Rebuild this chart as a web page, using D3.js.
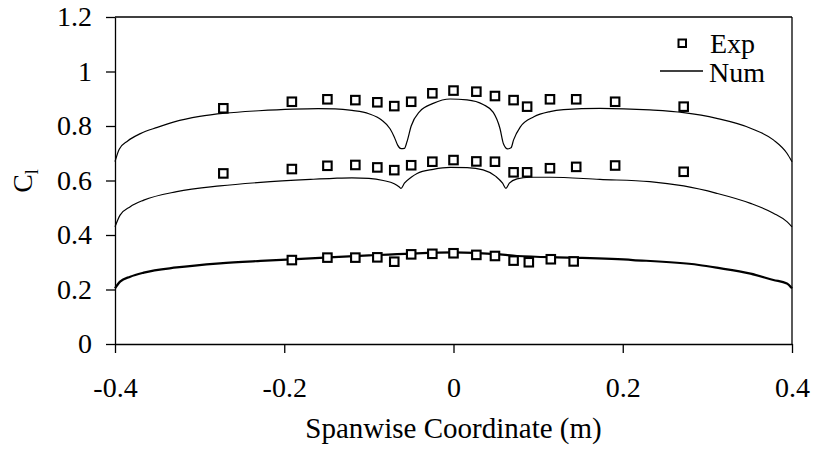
<!DOCTYPE html>
<html>
<head>
<meta charset="utf-8">
<script src="https://cdn.jsdelivr.net/npm/d3@7"></script>
<style>
  body { margin: 0; background: #fff; }
  svg text { font-family: "Liberation Serif", "Times New Roman", serif; fill: #000; }
</style>
</head>
<body>
<svg id="chart" width="814" height="449"></svg>
<script>
// experiment: spanwise stations and measured Cl for three cases
var expX = [-0.272, -0.191, -0.149, -0.116, -0.090, -0.070, -0.050, -0.025, 0, 0.027, 0.049, 0.071, 0.087, 0.114, 0.145, 0.191, 0.272];
var expHigh = [0.865, 0.889, 0.898, 0.895, 0.887, 0.873, 0.889, 0.920, 0.930, 0.926, 0.910, 0.895, 0.871, 0.898, 0.898, 0.889, 0.871];
var expMid = [0.626, 0.642, 0.654, 0.657, 0.648, 0.638, 0.656, 0.669, 0.675, 0.670, 0.669, 0.630, 0.630, 0.645, 0.650, 0.655, 0.632];
var expLowX = [-0.191, -0.149, -0.116, -0.090, -0.070, -0.050, -0.025, 0, 0.027, 0.049, 0.071, 0.089, 0.115, 0.142];
var expLow = [0.308, 0.317, 0.317, 0.318, 0.302, 0.329, 0.331, 0.333, 0.327, 0.323, 0.306, 0.300, 0.311, 0.303];

// numerical curves
var numHighX = [-0.4, -0.395, -0.385, -0.37, -0.35, -0.33, -0.3, -0.27, -0.23, -0.19, -0.16, -0.14, -0.12, -0.1, -0.085, -0.075, -0.07, -0.066, -0.062, -0.058, -0.055, -0.05, -0.04, -0.024, -0.004, 0.016, 0.035, 0.047, 0.055, 0.059, 0.064, 0.068, 0.071, 0.079, 0.095, 0.114, 0.13, 0.173, 0.232, 0.272, 0.311, 0.351, 0.378, 0.394, 0.4];
var numHigh = [0.669, 0.715, 0.745, 0.772, 0.795, 0.815, 0.835, 0.847, 0.856, 0.862, 0.864, 0.863, 0.857, 0.845, 0.822, 0.790, 0.760, 0.730, 0.717, 0.718, 0.742, 0.800, 0.853, 0.883, 0.899, 0.896, 0.879, 0.850, 0.790, 0.735, 0.716, 0.720, 0.749, 0.797, 0.834, 0.853, 0.860, 0.865, 0.859, 0.849, 0.828, 0.792, 0.749, 0.700, 0.669];
var numMidX = [-0.4, -0.394, -0.382, -0.366, -0.327, -0.276, -0.228, -0.169, -0.142, -0.12, -0.1, -0.083, -0.07, -0.064, -0.062, -0.058, -0.05, -0.043, -0.024, -0.004, 0.016, 0.035, 0.05, 0.058, 0.062, 0.066, 0.075, 0.09, 0.114, 0.173, 0.232, 0.272, 0.311, 0.351, 0.378, 0.394, 0.4];
var numMid = [0.430, 0.473, 0.504, 0.528, 0.559, 0.580, 0.593, 0.604, 0.608, 0.610, 0.608, 0.600, 0.588, 0.576, 0.571, 0.590, 0.612, 0.626, 0.641, 0.648, 0.647, 0.639, 0.615, 0.590, 0.571, 0.590, 0.606, 0.612, 0.612, 0.604, 0.596, 0.580, 0.553, 0.516, 0.480, 0.449, 0.430];
var numLowX = [-0.4, -0.394, -0.382, -0.366, -0.327, -0.276, -0.228, -0.169, -0.1, -0.05, 0, 0.05, 0.075, 0.14, 0.212, 0.29, 0.311, 0.351, 0.378, 0.394, 0.4];
var numLow = [0.204, 0.229, 0.247, 0.262, 0.281, 0.296, 0.305, 0.314, 0.325, 0.332, 0.336, 0.330, 0.323, 0.317, 0.308, 0.290, 0.280, 0.258, 0.235, 0.222, 0.204];

var xTicks = [-0.4, -0.2, 0, 0.2, 0.4];
var xTickLabels = ["-0.4", "-0.2", "0", "0.2", "0.4"];
var yTicks = [0, 0.2, 0.4, 0.6, 0.8, 1, 1.2];
var yTickLabels = ["0", "0.2", "0.4", "0.6", "0.8", "1", "1.2"];

var margin = {top: 17, right: 22, bottom: 105, left: 115};
var width = 814 - margin.left - margin.right;
var height = 449 - margin.top - margin.bottom;

var svg = d3.select("#chart");
var g = svg.append("g").attr("transform", "translate(" + margin.left + "," + margin.top + ")");

var x = d3.scaleLinear().domain([-0.4, 0.4]).range([0, width]);
var y = d3.scaleLinear().domain([0, 1.2]).range([height, 0]);

function zip(xs, ys) {
  return xs.map(function(v, i) { return [v, ys[i]]; });
}

// frame top and right
g.append("line").attr("x1", 0).attr("x2", width).attr("y1", 0).attr("y2", 0)
  .attr("stroke", "#000").attr("stroke-width", 1.3);
g.append("line").attr("x1", width).attr("x2", width).attr("y1", 0).attr("y2", height)
  .attr("stroke", "#000").attr("stroke-width", 1.3);

var xAxis = g.append("g")
  .attr("transform", "translate(0," + height + ")")
  .call(d3.axisBottom(x).tickValues(xTicks)
    .tickFormat(function(d, i) { return xTickLabels[i]; })
    .tickSize(9).tickPadding(24).tickSizeOuter(0));
var yAxis = g.append("g")
  .call(d3.axisLeft(y).tickValues(yTicks)
    .tickFormat(function(d, i) { return yTickLabels[i]; })
    .tickSize(9).tickPadding(14).tickSizeOuter(0));

[xAxis, yAxis].forEach(function(a) {
  a.attr("font-family", null).attr("font-size", null);
  a.select(".domain").attr("stroke", "#000").attr("stroke-width", 1.3);
  a.selectAll(".tick line").attr("stroke", "#000").attr("stroke-width", 1.3);
  a.selectAll(".tick text").style("font-size", "28px");
});

// numerical lines
var line = d3.line()
  .x(function(d) { return x(d[0]); })
  .y(function(d) { return y(d[1]); })
  .curve(d3.curveMonotoneX);

var curves = [zip(numHighX, numHigh), zip(numMidX, numMid), zip(numLowX, numLow)];
var widths = [1.2, 1.2, 2.2];
curves.forEach(function(c, i) {
  g.append("path").datum(c)
    .attr("d", line)
    .attr("fill", "none")
    .attr("stroke", "#000")
    .attr("stroke-width", widths[i]);
});

// experimental squares
var pts = zip(expX, expHigh).concat(zip(expX, expMid)).concat(zip(expLowX, expLow));
var s = 8.5;
g.selectAll("rect.exp").data(pts).enter().append("rect")
  .attr("class", "exp")
  .attr("x", function(d) { return x(d[0]) - s / 2; })
  .attr("y", function(d) { return y(d[1]) - s / 2; })
  .attr("width", s).attr("height", s)
  .attr("fill", "#fff")
  .attr("stroke", "#000")
  .attr("stroke-width", 2.1);

// legend
var lg = svg.append("g");
lg.append("rect").attr("x", 678.5).attr("y", 39.5).attr("width", 7.5).attr("height", 7.5)
  .attr("fill", "#fff").attr("stroke", "#000").attr("stroke-width", 2);
lg.append("text").attr("x", 710).attr("y", 52.5).style("font-size", "28px").text("Exp");
lg.append("line").attr("x1", 660).attr("x2", 703).attr("y1", 71).attr("y2", 71)
  .attr("stroke", "#000").attr("stroke-width", 1.5);
lg.append("text").attr("x", 709).attr("y", 81.5).style("font-size", "28px").text("Num");

// axis titles
svg.append("text")
  .attr("x", margin.left + width / 2).attr("y", 438)
  .attr("text-anchor", "middle")
  .style("font-size", "29px")
  .text("Spanwise Coordinate (m)");

var yt = svg.append("text")
  .attr("transform", "translate(32,181) rotate(-90)")
  .attr("text-anchor", "middle")
  .style("font-size", "28px");
yt.append("tspan").text("C");
yt.append("tspan").attr("dy", 6).style("font-size", "18px").text("l");
</script>
</body>
</html>
